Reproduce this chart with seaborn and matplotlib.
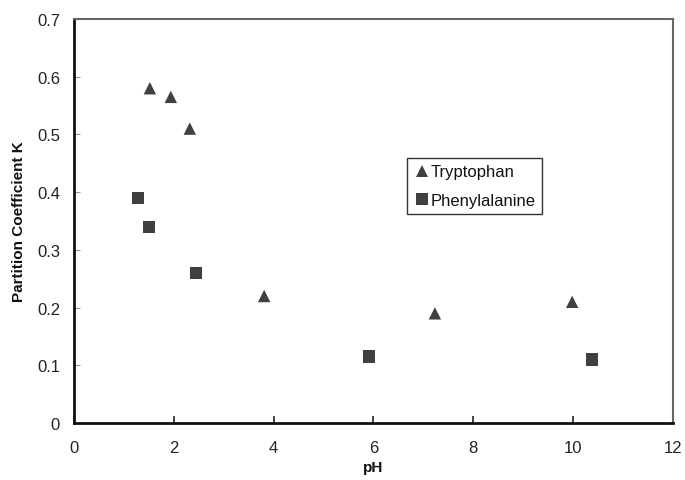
import matplotlib
matplotlib.use("Agg")
import matplotlib.pyplot as plt
import seaborn as sns
import pandas as pd

trp_ph = [1.52, 1.94, 2.32, 3.81, 7.23, 9.98]
trp_k = [0.58, 0.565, 0.51, 0.22, 0.19, 0.21]
phe_ph = [1.28, 1.50, 2.44, 5.91, 10.38]
phe_k = [0.39, 0.34, 0.26, 0.115, 0.11]
names = ["Tryptophan", "Phenylalanine"]

df = pd.DataFrame({
    "pH": trp_ph + phe_ph,
    "K": trp_k + phe_k,
    "Compound": [names[0]] * len(trp_ph) + [names[1]] * len(phe_ph),
})

sns.set_style("white")
plt.rcParams["font.family"] = ["Liberation Sans", "DejaVu Sans"]

fig = plt.figure(figsize=(6.85, 4.81), dpi=100)
ax = fig.add_axes([0.108, 0.1185, 0.8745, 0.84])

sns.scatterplot(data=df, x="pH", y="K", hue="Compound", style="Compound",
                markers={names[0]: "^", names[1]: "s"},
                palette={names[0]: "#404040", names[1]: "#404040"},
                s=80, linewidth=0, ax=ax)

ax.set_xlim(0, 12)
ax.set_ylim(0, 0.7)
ax.set_xticks(range(0, 13, 2))
ax.set_yticks([0, 0.1, 0.2, 0.3, 0.4, 0.5, 0.6, 0.7])
ax.set_yticklabels(["0", "0.1", "0.2", "0.3", "0.4", "0.5", "0.6", "0.7"])
ax.set_xlabel("pH", fontsize=11, fontweight="bold", labelpad=4, color="#111111")
ax.set_ylabel("Partition Coefficient K", fontsize=11, fontweight="bold", labelpad=8,
              color="#111111")
ax.tick_params(axis="x", direction="in", length=5, width=1.2, color="#222222",
               labelsize=12, pad=12, bottom=True, labelcolor="#222222")
ax.tick_params(axis="y", direction="in", length=4, width=0.8, color="#999999",
               labelsize=12, pad=10, left=True, labelcolor="#222222")
for side in ["bottom", "left"]:
    ax.spines[side].set_color("#111111")
    ax.spines[side].set_linewidth(2)
for side in ["top", "right"]:
    ax.spines[side].set_color("#666666")
    ax.spines[side].set_linewidth(1.5)

leg = ax.legend(loc="upper left", bbox_to_anchor=(0.542, 0.677), frameon=True,
                fancybox=False, edgecolor="black", fontsize=12,
                handletextpad=0.0, borderpad=0.4, labelspacing=0.8,
                handlelength=1.0, markerscale=0.95)
leg.get_frame().set_linewidth(1.0)
for t in leg.get_texts():
    t.set_color("#111111")

fig.savefig("out.png", dpi=100)
